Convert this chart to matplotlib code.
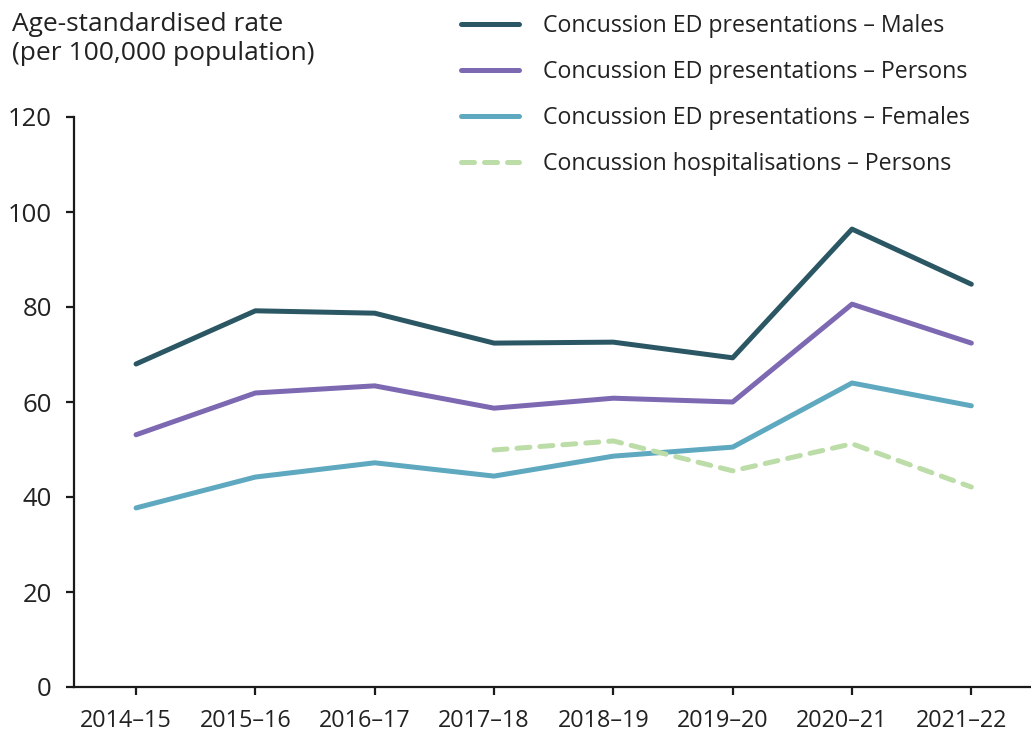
import matplotlib
matplotlib.use("Agg")
import matplotlib.pyplot as plt
import matplotlib.transforms as mtransforms
import numpy as np

periods = ["2014–15", "2015–16", "2016–17", "2017–18", "2018–19", "2019–20", "2020–21", "2021–22"]
males = [68.0, 79.2, 78.7, 72.4, 72.6, 69.3, 96.4, 84.8]
persons = [53.1, 61.9, 63.4, 58.7, 60.8, 60.0, 80.6, 72.4]
females = [37.7, 44.2, 47.2, 44.4, 48.6, 50.5, 64.0, 59.2]
hosp = [np.nan, np.nan, np.nan, 49.9, 51.8, 45.5, 51.2, 42.1]
y_ticks = [0, 20, 40, 60, 80, 100, 120]

plt.rcParams['font.family'] = ['Open Sans', 'DejaVu Sans']
W, H = 1031, 732
fig = plt.figure(figsize=(W / 100, H / 100), dpi=100)
ax = fig.add_axes([74 / W, (H - 687) / H, (W - 74) / W, (687 - 117) / H])

x = np.arange(len(periods))
lw = 3.6
ax.plot(x, males, color='#2b5764', lw=lw, solid_capstyle='round', solid_joinstyle='round',
        label='Concussion ED presentations – Males')
ax.plot(x, persons, color='#7d68b2', lw=lw, solid_capstyle='round', solid_joinstyle='round',
        label='Concussion ED presentations – Persons')
ax.plot(x, females, color='#5ea8c0', lw=lw, solid_capstyle='round', solid_joinstyle='round',
        label='Concussion ED presentations – Females')
ax.plot(x, hosp, color='#bcdca8', lw=lw, dashes=(2.6, 2.0), dash_capstyle='round',
        label='Concussion hospitalisations – Persons')

ax.set_xlim(-0.52, 7.5)
ax.set_ylim(0, 120)
ax.set_xticks(x)
ax.set_xticklabels(periods)
ax.set_yticks(y_ticks)
for s in ['top', 'right']:
    ax.spines[s].set_visible(False)
for s in ['left', 'bottom']:
    ax.spines[s].set_linewidth(1.6)
    ax.spines[s].set_color('#1a1a1a')
ax.tick_params(axis='both', colors='#1a1a1a', width=1.6, length=6, labelcolor='#222222')
ax.tick_params(axis='x', labelsize=16.8, pad=10)
ax.tick_params(axis='y', labelsize=18.5, pad=10)

offset = mtransforms.ScaledTranslation(-10 / 100, 0, fig.dpi_scale_trans)
for lab in ax.get_xticklabels():
    lab.set_transform(lab.get_transform() + offset)

fig.text(12 / W, 1 - 12 / H, "Age-standardised rate\n(per 100,000 population)", fontsize=19,
         color='#222222', va='top', ha='left', linespacing=1.2)

leg = fig.legend(loc='upper left', bbox_to_anchor=(440 / W, 1 + 7 / H), frameon=False, fontsize=16.7,
                 handlelength=2.5, handletextpad=1.05, labelspacing=0.95)
for t in leg.get_texts():
    t.set_color('#222222')

fig.savefig('out.png', dpi=100)
